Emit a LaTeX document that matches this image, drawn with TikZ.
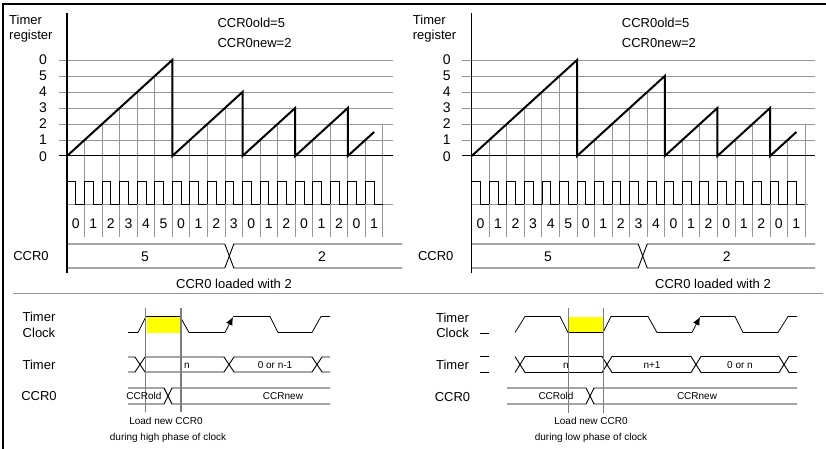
\documentclass[tikz,border=0pt]{standalone}
\usepackage{fontspec}
\setmainfont{Liberation Sans}
\usetikzlibrary{arrows.meta}
\definecolor{gridgray}{RGB}{150,150,150}
\definecolor{markgray}{RGB}{125,125,125}
\definecolor{hiyellow}{RGB}{255,255,0}
\begin{document}
\begin{tikzpicture}[x=1pt,y=-1pt,
  every node/.style={inner sep=0pt, text height=9.3pt, text depth=0pt, font=\fontsize{13}{15}\selectfont},
  dig/.style={font=\fontsize{14}{16}\selectfont, text height=10pt, text depth=0pt},
  sm/.style={font=\fontsize{10}{12}\selectfont, text height=7.2pt, text depth=0pt},
  gridline/.style={draw=gridgray, line width=0.9pt},
  axisline/.style={draw=black, line width=1.4pt},
  rampline/.style={draw=black, line width=2pt, line join=miter},
  sig/.style={draw=black, line width=0.8pt},
  busline/.style={draw=black, line width=0.9pt},
  marker/.style={draw=markgray, line width=1.1pt}]
\useasboundingbox (0,0) rectangle (826,449);
% frame
\draw[line width=1.5pt] (3,449) -- (3,4) -- (826,4);
% separator
\draw[draw=gridgray, line width=1pt] (13,293) -- (823,293);

% ===================== LEFT TOP CHART =====================
\begin{scope}[xshift=67pt]
  \foreach \yy in {60,76,92,108,124,140} \draw[gridline] (-8,\yy) -- (326,\yy);
  \draw[gridline] (0,204) -- (326,204);
  \foreach \k/\lv in {1/1,2/2,3/3,4/4,5/5,6/6,7/1,8/2,9/3,10/4,11/1,12/2,13/3,14/1,15/2,16/3,17/1,18/2}
    \draw[gridline] ({\k*17.55},{156-16*\lv}) -- ({\k*17.55},237);
  \draw[line width=1pt] (-8,156) -- (326,156);
  \foreach \k in {0,...,17}
    \draw[sig] ({\k*17.55},204) -- ({\k*17.55},181) -- ({(\k+0.5)*17.55},181) -- ({(\k+0.5)*17.55},204) -- ({(\k+1)*17.55},204);
  \foreach \k/\v in {0/0,1/1,2/2,3/3,4/4,5/5,6/0,7/1,8/2,9/3,10/0,11/1,12/2,13/0,14/1,15/2,16/0,17/1}
    \node[dig] (Lc\k) at ({(\k+0.5)*17.55},223) {\v};
  \draw[axisline] (0,13) -- (0,273);
  \draw[rampline] (0,156) -- (105.3,60) -- (105.3,156) -- (175.5,92) -- (175.5,156) -- (228.15,108) -- (228.15,156) -- (280.8,108) -- (280.8,156) -- (307.1,132);
  \draw[busline] (0,244) -- (157.8,244) -- (166.8,268) -- (335,268);
  \draw[busline] (0,268) -- (157.8,268) -- (166.8,244) -- (335,244);
  \foreach \yy/\v/\n in {60/0/a,76/5/b,92/4/c,108/3/d,124/2/e,140/1/f,156/0/g}
    \node[dig] (Lv\n) at (-24,\yy) {\v};
  \node[anchor=west] (Ltimer) at (-58,20) {Timer};
  \node[anchor=west] (Lreg) at (-58,35) {register};
  \node[anchor=west] (Lold) at (150.3,23) {CCR0old=5};
  \node[anchor=west] (Lnew) at (150.3,43) {CCR0new=2};
  \node (Lccr) at (-36,256) {CCR0};
  \node[dig] (Lfive) at (78,256) {5};
  \node[dig] (Ltwo) at (255,256) {2};
  \node (Lload) at (167,284) {CCR0 loaded with 2};
\end{scope}

% ===================== RIGHT TOP CHART =====================
\begin{scope}[xshift=471.7pt]
  \foreach \yy in {60,76,92,108,124,140} \draw[gridline] (-10,\yy) -- (343.3,\yy);
  \draw[gridline] (0,204) -- (336,204);
  \foreach \k/\lv in {1/1,2/2,3/3,4/4,5/5,6/6,7/1,8/2,9/3,10/4,11/5,12/1,13/2,14/3,15/1,16/2,17/3,18/1,19/2}
    \draw[gridline] ({\k*17.55},{156-16*\lv}) -- ({\k*17.55},237);
  \draw[line width=1pt] (-10,156) -- (343.3,156);
  \foreach \k in {0,...,18}
    \draw[sig] ({\k*17.55},204) -- ({\k*17.55},181) -- ({(\k+0.5)*17.55},181) -- ({(\k+0.5)*17.55},204) -- ({(\k+1)*17.55},204);
  \foreach \k/\v in {0/0,1/1,2/2,3/3,4/4,5/5,6/0,7/1,8/2,9/3,10/4,11/0,12/1,13/2,14/0,15/1,16/2,17/0,18/1}
    \node[dig] (Rc\k) at ({(\k+0.5)*17.55},223) {\v};
  \draw[axisline] (0,13) -- (0,273);
  \draw[rampline] (0,156) -- (105.3,60) -- (105.3,156) -- (193.05,76) -- (193.05,156) -- (245.7,108) -- (245.7,156) -- (298.35,108) -- (298.35,156) -- (324.7,132);
  \draw[busline] (0,244) -- (166.5,244) -- (175.5,268) -- (343.3,268);
  \draw[busline] (0,268) -- (166.5,268) -- (175.5,244) -- (343.3,244);
  \foreach \yy/\v/\n in {60/0/a,76/5/b,92/4/c,108/3/d,124/2/e,140/1/f,156/0/g}
    \node[dig] (Rv\n) at (-25,\yy) {\v};
  \node[anchor=west] (Rtimer) at (-59,20) {Timer};
  \node[anchor=west] (Rreg) at (-59,35) {register};
  \node[anchor=west] (Rold) at (150,23) {CCR0old=5};
  \node[anchor=west] (Rnew) at (150,43) {CCR0new=2};
  \node (Rccr) at (-36,256) {CCR0};
  \node[dig] (Rfive) at (76.3,256) {5};
  \node[dig] (Rtwo) at (255,256) {2};
  \node (Rload) at (241.3,284) {CCR0 loaded with 2};
\end{scope}

% ===================== LEFT BOTTOM =====================
\fill[hiyellow] (146.5,316.5) rectangle (180,332.5);
\draw[sig] (128,332.5) -- (138,332.5) -- (146,316.5) -- (180,316.5) -- (189,332.5) -- (225,332.5);
\draw[sig, -{Latex[length=8pt,width=7pt]}] (225,332.5) -- (233,317);
\draw[sig] (233,316.5) -- (270,316.5) -- (278,332.5) -- (312,332.5) -- (321,316.5) -- (330,316.5);
\draw[busline] (128,357) -- (135,357) -- (145,372) -- (224,372) -- (234,357) -- (312,357) -- (322,372) -- (330,372);
\draw[busline] (128,372) -- (135,372) -- (145,357) -- (224,357) -- (234,372) -- (312,372) -- (322,357) -- (330,357);
\draw[busline] (128,388) -- (164,388) -- (172,404) -- (330,404);
\draw[busline] (128,404) -- (164,404) -- (172,388) -- (330,388);
\draw[marker] (145.7,308) -- (145.7,412);
\draw[marker] (181,308) -- (181,412);
\node (LBtimer) at (39,317) {Timer};
\node (LBclock) at (39,333) {Clock};
\node (LBtim) at (39,364.5) {Timer};
\node (LBccr) at (39,396) {CCR0};
\node[sm, anchor=west] (LBn) at (184,364.5) {n};
\node[sm] (LBnm1) at (275,364.5) {0 or n-1};
\node[sm] (LBold) at (144,396) {CCRold};
\node[sm] (LBnewv) at (283,396) {CCRnew};
\node[sm] (LBload) at (166,421) {Load new CCR0};
\node[sm] (LBdur) at (168,437) {during high phase of clock};

% ===================== RIGHT BOTTOM =====================
\fill[hiyellow] (568.5,316.5) rectangle (603,332.5);
\draw[sig] (515,332.5) -- (525,316.5) -- (560,316.5) -- (568,332.5) -- (603,332.5) -- (611,316.5) -- (648,316.5) -- (657,332.5) -- (692,332.5);
\draw[sig, -{Latex[length=8pt,width=7pt]}] (692,332.5) -- (700,317);
\draw[sig] (700,316.5) -- (735,316.5) -- (743,332.5) -- (778,332.5) -- (788,316.5) -- (797,316.5);
\draw[busline] (515,356.5) -- (525,372.5) -- (602,372.5) -- (612,356.5) -- (691,356.5) -- (701,372.5) -- (779,372.5) -- (789,356.5) -- (797,356.5);
\draw[busline] (515,372.5) -- (525,356.5) -- (602,356.5) -- (612,372.5) -- (691,372.5) -- (701,356.5) -- (779,356.5) -- (789,372.5) -- (797,372.5);
\draw[busline] (507,388) -- (586,388) -- (594,404) -- (797,404);
\draw[busline] (507,404) -- (586,404) -- (594,388) -- (797,388);
\draw[marker] (568.3,308) -- (568.3,413);
\draw[marker] (603.3,308) -- (603.3,413);
\draw[sig] (480,333) -- (489,333);
\draw[sig] (480,356.5) -- (489,356.5);
\draw[sig] (480,372.5) -- (489,372.5);
\node (RBtimer) at (452.5,318) {Timer};
\node (RBclock) at (452.5,333) {Clock};
\node (RBtim) at (452.5,365) {Timer};
\node (RBccr) at (452.5,396.5) {CCR0};
\node[sm] (RBn) at (566,364.5) {n};
\node[sm] (RBnp1) at (652,364.5) {n+1};
\node[sm] (RBzn) at (740,364.5) {0 or n};
\node[sm] (RBold) at (556,396) {CCRold};
\node[sm] (RBnewv) at (697,396) {CCRnew};
\node[sm] (RBload) at (591,421) {Load new CCR0};
\node[sm] (RBdur) at (591,437) {during low phase of clock};
\end{tikzpicture}
\end{document}
